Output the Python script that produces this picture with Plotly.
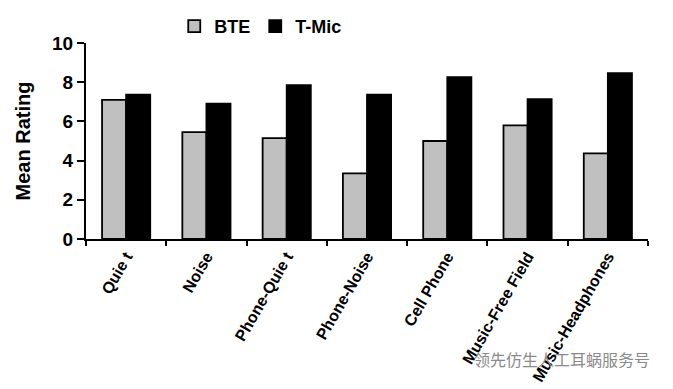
import plotly.graph_objects as go

categories = ["Quiet", "Noise", "Phone-Quiet", "Phone-Noise", "Cell Phone", "Music-Free Field", "Music-Headphones"]
tick_labels = ["Quie t", "Noise", "Phone-Quie t", "Phone-Noise", "Cell Phone", "Music-Free Field", "Music-Headphones"]
bte = [7.1, 5.45, 5.15, 3.35, 5.0, 5.8, 4.37]
tmic = [7.37, 6.9, 7.85, 7.37, 8.26, 7.13, 8.46]

FONT = "Liberation Sans, Arial, sans-serif"

fig = go.Figure()
fig.add_trace(go.Bar(x=categories, y=bte, name="BTE",
                     marker=dict(color="#C0C0C0", line=dict(color="black", width=1.8))))
fig.add_trace(go.Bar(x=categories, y=tmic, name="T-Mic",
                     marker=dict(color="black", line=dict(color="black", width=1.8))))

fig.update_layout(
    width=665, height=381,
    margin=dict(l=78, r=25, t=35, b=150, autoexpand=False),
    paper_bgcolor="white", plot_bgcolor="white",
    barmode="group", bargap=0.4, bargroupgap=0,
    font=dict(family=FONT, color="black"),
    legend=dict(orientation="h", xref="container", yref="container",
                x=0.25, y=1.0, xanchor="left", yanchor="top",
                font=dict(size=18, weight="bold", family=FONT),
                itemwidth=30, bgcolor="rgba(0,0,0,0)"),
    xaxis=dict(tickmode="array", tickvals=categories, ticktext=tick_labels,
               tickangle=-60, tickson="boundaries", ticks="outside", ticklen=5,
               tickwidth=1.5, tickcolor="black", automargin=False,
               showline=True, linecolor="black", linewidth=2,
               tickfont=dict(size=16, weight="bold", family=FONT),
               showgrid=False),
    yaxis=dict(range=[0, 10], dtick=2, ticks="outside", ticklen=7, tickwidth=1.5,
               tickcolor="black", showline=True, linecolor="black", linewidth=2,
               showgrid=False, zeroline=False, automargin=False,
               tickfont=dict(size=19, weight="bold", family=FONT),
               title=dict(text="Mean Rating", standoff=16,
                          font=dict(size=20, weight="bold", family=FONT))),
)

fig.add_annotation(text="领先仿生人工耳蜗服务号", xref="paper", yref="paper",
                   x=1.007, y=-0.61, xanchor="right", yanchor="middle", showarrow=False,
                   font=dict(family="Noto Sans CJK SC", size=16, color="#8a8a8a"))

fig.write_html("out.html")
